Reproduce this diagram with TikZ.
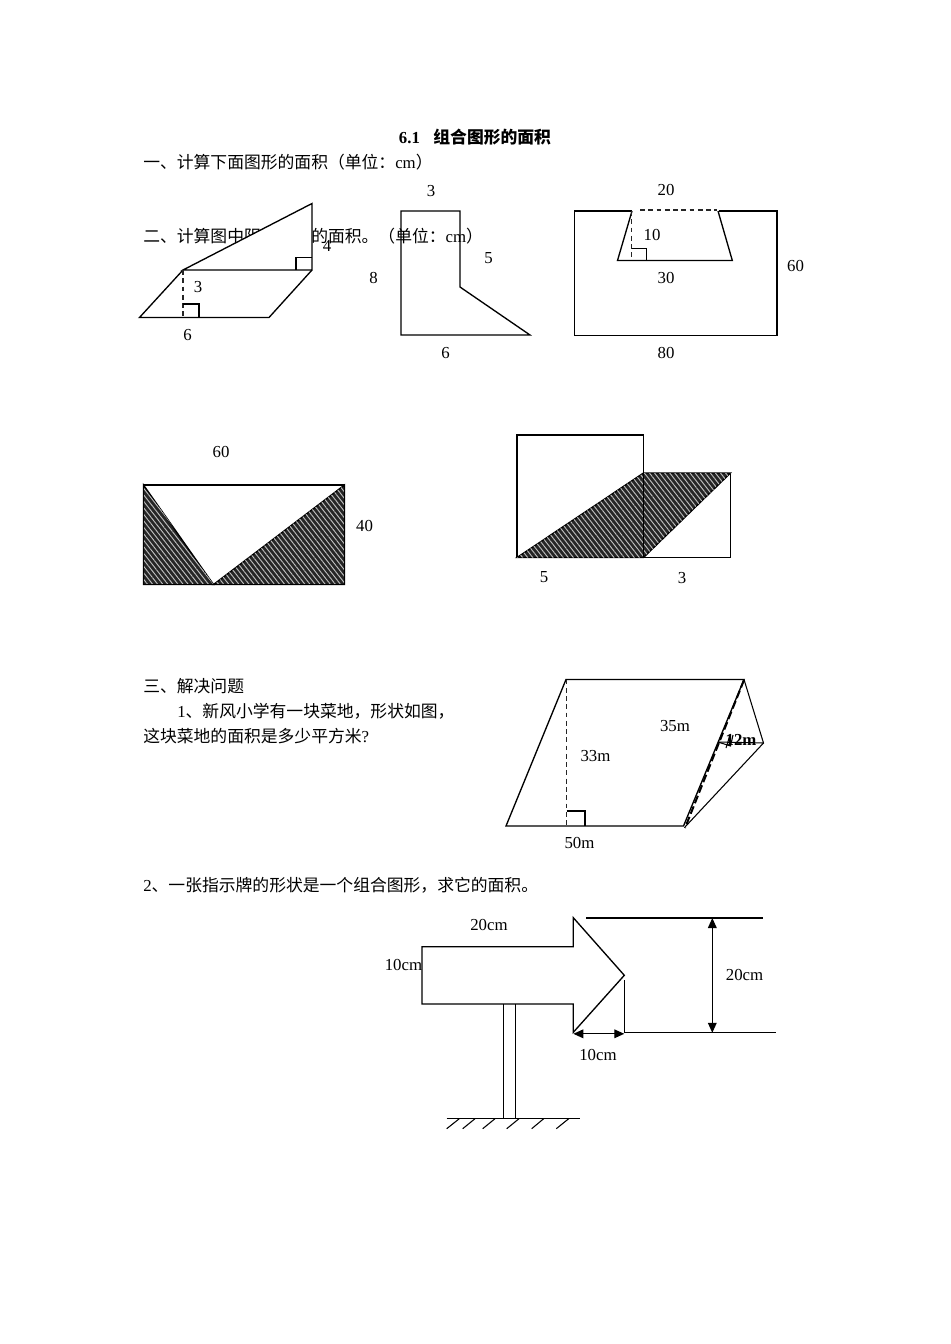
\documentclass[tikz,border=0pt]{standalone}
\usepackage{fontspec}
\setmainfont{Liberation Serif}
\newfontfamily\cjk{Noto Sans CJK SC}
\usetikzlibrary{arrows.meta,patterns.meta}
\tikzset{
  txt/.style={inner sep=0pt,anchor=base west,font=\fontsize{12.6pt}{15pt}\selectfont},
  lbl/.style={inner sep=0pt,anchor=center,yshift=-0.4pt,font=\fontsize{12.6pt}{15pt}\selectfont},
  ttl/.style={inner sep=0pt,anchor=base,font=\fontsize{12.6pt}{15pt}\selectfont\bfseries},
  ln/.style={draw=black,line width=1pt,line join=miter},
  thin ln/.style={draw=black,line width=0.8pt},
  dsh/.style={draw=black!85,line width=1pt,dash pattern=on 3.6pt off 2.6pt},
  shade base/.style={fill=black!85,draw=black,line width=1pt},
  shade lines/.style={pattern={Lines[angle=-52,distance=3pt,line width=0.7pt]},pattern color=black!25},
  dim/.style={draw=black,line width=1pt,{Triangle[length=7.5pt,width=6.5pt]}-{Triangle[length=7.5pt,width=6.5pt]}},
}
\begin{document}
\begin{tikzpicture}[x=0.75pt,y=-0.75pt]
\fill[white] (0,0) rectangle (950,1344);
\useasboundingbox (0,0) rectangle (950,1344);
% page text
\node[ttl] (title) at (475,144) {6.1\hspace{0.8em}{\cjk 组合图形的面积}};
\node[txt] (q1) at (143,169) {{\cjk 一、计算下面图形的面积（单位：}cm{\cjk ）}};
\node[txt] (q2) at (143,243) {{\cjk 二、计算图中阴影部分的面积。（单位：}cm{\cjk ）}};
\node[txt] (q3) at (143,692) {{\cjk 三、解决问题}};
\node[txt] (q31) at (177,717) {1{\cjk 、新风小学有一块菜地，形状如图，}};
\node[txt] (q32) at (143,742) {{\cjk 这块菜地的面积是多少平方米}?};
\node[txt] (q4) at (143,891) {2{\cjk 、一张指示牌的形状是一个组合图形，求它的面积。}};
% figure 1
\path[ln,fill=white] (183,270) -- (312,203.5) -- (312,270) -- cycle;
\draw[ln] (183,270) -- (139.5,317.5) -- (269,317.5) -- (312,270);
\draw[dsh] (183,270) -- (183,317.5);
\draw[ln] (183,304) -- (199,304) -- (199,317.5);
\draw[ln] (296,270) -- (296,257.7) -- (312,257.7);
\node[lbl] (a4) at (327,245) {4};
\node[lbl] (a3) at (198,286) {3};
\node[lbl] (a6) at (187.5,334) {6};
% figure 2
\draw[ln] (401,211) -- (460,211) -- (460,287) -- (530,335) -- (401,335) -- cycle;
\node[lbl] (b3) at (431,190) {3};
\node[lbl] (b8) at (373.5,277) {8};
\node[lbl] (b5) at (488.5,258) {5};
\node[lbl] (b6) at (445.5,352) {6};
% figure 3
\draw[ln] (632,211) -- (574.3,211) -- (574.3,335.3) -- (777,335.3) -- (777,211) -- (719,211);
\draw[ln] (632,211) -- (617.5,260.5) -- (732.3,260.5) -- (718,211);
\draw[dsh] (640,210) -- (717,210);
\draw[dsh] (631.7,211) -- (631.7,260);
\draw[ln] (631.7,248.7) -- (646.3,248.7) -- (646.3,260.5);
\node[lbl] (c20) at (666,189) {20};
\node[lbl] (c10) at (652,234) {10};
\node[lbl] (c30) at (666,277) {30};
\node[lbl] (c60) at (795.5,265) {60};
\node[lbl] (c80) at (666,352) {80};
% figure 4
\path[shade base] (143.5,485) -- (213.5,584.5) -- (143.5,584.5) -- cycle;
\path[shade lines] (143.5,485) -- (213.5,584.5) -- (143.5,584.5) -- cycle;
\path[shade base] (344.5,485) -- (344.5,584.5) -- (213.5,584.5) -- cycle;
\path[shade lines] (344.5,485) -- (344.5,584.5) -- (213.5,584.5) -- cycle;
\draw[ln] (143.5,485) rectangle (344.5,584.5);
\node[lbl] (d60) at (221,451) {60};
\node[lbl] (d40) at (364.5,525.5) {40};
% figure 5
\draw[ln] (643.5,473) -- (643.5,435) -- (517,435) -- (517,557.5) -- (730.5,557.5) -- (730.5,473);
\path[shade base] (517,557.5) -- (643.5,473) -- (730.5,473) -- (643.5,557.5) -- cycle;
\path[shade lines] (517,557.5) -- (643.5,473) -- (730.5,473) -- (643.5,557.5) -- cycle;
\draw[ln] (643.5,473) -- (643.5,557.5);
\node[lbl] (e5) at (544,577) {5};
\node[lbl] (e3) at (682,577) {3};
% figure 6
\draw[ln] (566,679.5) -- (744,679.5) -- (683.5,826) -- (506,826) -- cycle;
\draw[dsh] (566.5,679.5) -- (566.5,826);
\draw[ln] (566.5,811) -- (585,811) -- (585,826);
\draw[thin ln] (744,679.5) -- (763.5,743) -- (685,827);
\draw[draw=black,line width=1.5pt,dash pattern=on 6pt off 2.5pt] (744,680) -- (685,828);
\draw[thin ln] (718,742) -- (730.5,746) -- (733,735);
\draw[thin ln] (730,735) -- (726,748);
\draw[thin ln] (718,742) -- (763.5,743);
\node[lbl] (f35) at (675,725) {35m};
\node[lbl] (f33) at (595.5,755) {33m};
\node[lbl] (f50) at (579.5,842) {50m};
\node[lbl,font=\fontsize{12.6pt}{15pt}\selectfont\bfseries] (f12) at (741,739.5) {12m};
% figure 7: sign
\draw[ln] (422,946.7) -- (573.3,946.7) -- (573.3,917.7) -- (624.3,975.3) -- (573.3,1032.3) -- (573.3,1004) -- (422,1004) -- cycle;
\draw[ln] (503.3,1004) -- (503.3,1118.7);
\draw[ln] (515.7,1004) -- (515.7,1118.7);
\draw[ln] (446.7,1118.7) -- (580.3,1118.7);
\foreach \xa/\xb in {459.3/446.7,475/462.7,495/482.7,519/506.7,543.7/531.7,568.7/556.3}
  \draw[thin ln] (\xa,1118.7) -- (\xb,1128.7);
\draw[ln] (586.3,918) -- (763,918);
\draw[ln] (624.3,980) -- (624.3,1032.8) -- (775.7,1032.8);
\draw[dim] (712.3,918) -- (712.3,1032.8);
\draw[dim] (573.3,1033.8) -- (624.3,1033.8);
\node[lbl] (g20a) at (489,924.5) {20cm};
\node[lbl] (g10a) at (403.5,964.5) {10cm};
\node[lbl] (g20b) at (744.5,974.5) {20cm};
\node[lbl] (g10b) at (598,1054.5) {10cm};
\end{tikzpicture}
\end{document}
